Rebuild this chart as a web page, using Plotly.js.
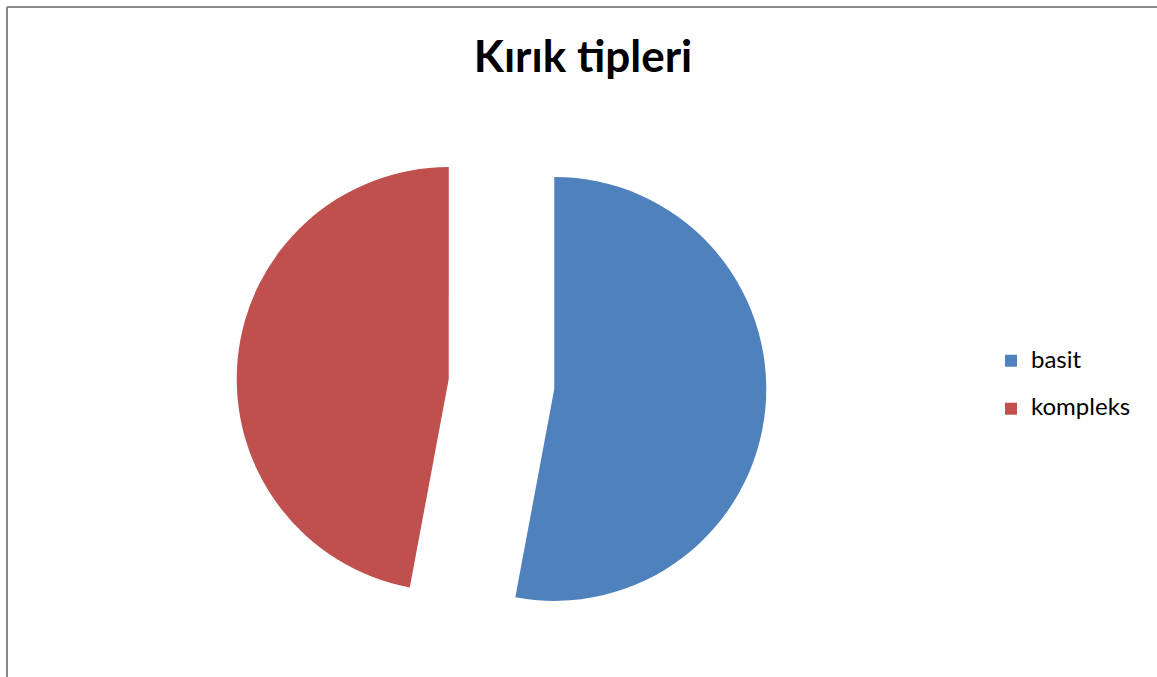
<!DOCTYPE html>
<html>
<head>
<meta charset="utf-8">
<script src="https://cdn.plot.ly/plotly-3.0.1.min.js"></script>
<style>html,body{margin:0;padding:0;background:#fff;}#chart{width:1157px;height:677px;}</style>
</head>
<body>
<div id="chart"></div>
<script>
var chartTitle = "Kırık tipleri";
var categories = ["basit", "kompleks"];
var values = [9, 8];
var colors = ["#4F81BD", "#C0504D"];

var legendLabels = categories.map(function (c) {
  return "<span style='font-size:24px'>" + c + "</span><br> ";
});

var trace = {
  type: "pie",
  labels: legendLabels,
  values: values,
  sort: false,
  direction: "clockwise",
  rotation: 0,
  pull: [0.25, 0.25],
  textinfo: "none",
  hoverinfo: "skip",
  marker: { colors: colors, line: { width: 0 } },
  domain: { x: [201.5 / 1157, 801.5 / 1157], y: [1 - 649 / 677, 1 - 119 / 677] }
};

var layout = {
  width: 1157,
  height: 677,
  margin: { l: 0, r: 0, t: 0, b: 0 },
  paper_bgcolor: "#ffffff",
  font: { family: "Lato, 'Open Sans', sans-serif", color: "#000000" },
  title: {
    text: "<b>" + chartTitle + "</b>",
    font: { family: "Lato, 'Open Sans', sans-serif", size: 44, color: "#000000" },
    x: 583 / 1157, xanchor: "center",
    y: 1 - 57 / 677, yanchor: "middle",
    yref: "container", xref: "container"
  },
  showlegend: true,
  legend: {
    x: 991 / 1157, xanchor: "left",
    y: 1 - 343 / 677, yanchor: "top",
    valign: "top",
    font: { size: 17.3, color: "#000000" },
    bgcolor: "rgba(0,0,0,0)"
  },
  shapes: [
    { type: "line", xref: "paper", yref: "paper", x0: 7 / 1157, x1: 7 / 1157, y0: -0.05, y1: 1 - 7 / 677, line: { color: "#888888", width: 2 } },
    { type: "line", xref: "paper", yref: "paper", x0: 7 / 1157, x1: 1.05, y0: 1 - 7 / 677, y1: 1 - 7 / 677, line: { color: "#888888", width: 2 } }
  ]
};

Plotly.newPlot("chart", [trace], layout, { displayModeBar: false, staticPlot: true });
</script>
</body>
</html>
